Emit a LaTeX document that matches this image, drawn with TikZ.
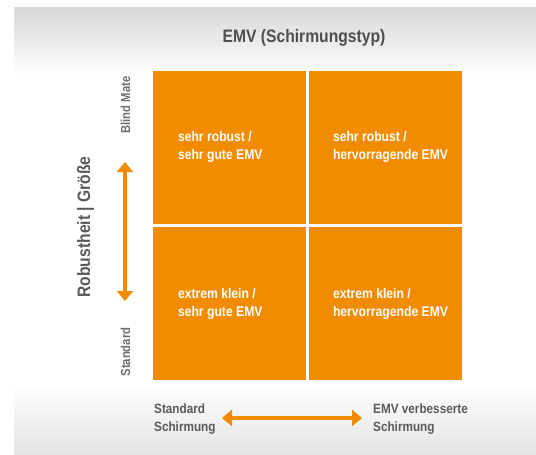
\documentclass[tikz,border=0pt]{standalone}
\usepackage{fontspec}
\setmainfont{Liberation Sans}[FakeStretch=0.87]
\usetikzlibrary{arrows.meta,calc}
\definecolor{orng}{HTML}{F18B00}
\definecolor{titlegray}{HTML}{4F4F4F}
\definecolor{labgray}{HTML}{5A5A5A}
\definecolor{smallgray}{HTML}{6E6E6E}
\definecolor{bgtop}{HTML}{D8D8D8}
\definecolor{bgbot}{HTML}{E3E3E3}
\begin{document}
\begin{tikzpicture}[x=1pt,y=-1pt,
  cell/.style={fill=orng, draw=none, minimum width=153pt, minimum height=153pt, inner sep=0pt},
  celltext/.style={text=white, font=\bfseries\fontsize{14}{18}\selectfont, align=left, inner sep=0pt, anchor=west},
  titletext/.style={text=titlegray, font=\bfseries\fontsize{18}{22}\selectfont, inner sep=0pt},
  axislab/.style={text=labgray, font=\bfseries\fontsize{18}{22}\selectfont, inner sep=0pt},
  ticklab/.style={text=smallgray, font=\bfseries\fontsize{13}{16}\selectfont, inner sep=0pt},
  botlab/.style={text=labgray, font=\bfseries\fontsize{13.5}{18}\selectfont, align=left, inner sep=0pt, anchor=west},
  dblarrow/.style={draw=orng, line width=3.5pt, {Triangle[width=16pt,length=10pt]}-{Triangle[width=16pt,length=10pt]}}
]
\useasboundingbox (0,0) rectangle (536,455);
% background panel
\fill[white] (0,0) rectangle (536,455);
\fill[white] (14,7) rectangle (536,455);
\shade[top color=bgtop, bottom color=white] (14,7) rectangle (536,75);
\shade[top color=white, bottom color=bgbot] (14,385) rectangle (536,455);

% title
\node[titletext, anchor=base] (title) at (304,42) {EMV (Schirmungstyp)};

% cells
\node[cell] (c11) at (229.5,147.5) {};
\node[cell] (c12) at (385.5,147.5) {};
\node[cell] (c21) at (229.5,303.5) {};
\node[cell] (c22) at (385.5,303.5) {};

\node[celltext] (t11) at ($(c11.west)+(25,-1)$) {sehr robust /\\sehr gute EMV};
\node[celltext] (t12) at ($(c12.west)+(24,-1)$) {sehr robust /\\hervorragende EMV};
\node[celltext] (t21) at ($(c21.west)+(25,0)$) {extrem klein /\\sehr gute EMV};
\node[celltext] (t22) at ($(c22.west)+(24,0)$) {extrem klein /\\hervorragende EMV};

% left axis
\node[axislab, rotate=90, anchor=base] (ylab) at (90,227) {Robustheit | Größe};
\node[ticklab, rotate=90, anchor=base] (ytop) at (130,105) {Blind Mate};
\node[ticklab, rotate=90, anchor=base] (ybot) at (130,352) {Standard};
\coordinate (vtop) at (125,162);
\coordinate (vbot) at (125,301);
\draw[dblarrow] (vtop) -- (vbot);

% bottom axis
\node[botlab] (xleft) at (154,419) {Standard\\Schirmung};
\node[botlab] (xright) at (373,419) {EMV verbesserte\\Schirmung};
\coordinate (hl) at (222,418);
\coordinate (hr) at (362,418);
\draw[dblarrow] (hl) -- (hr);
\end{tikzpicture}
\end{document}
